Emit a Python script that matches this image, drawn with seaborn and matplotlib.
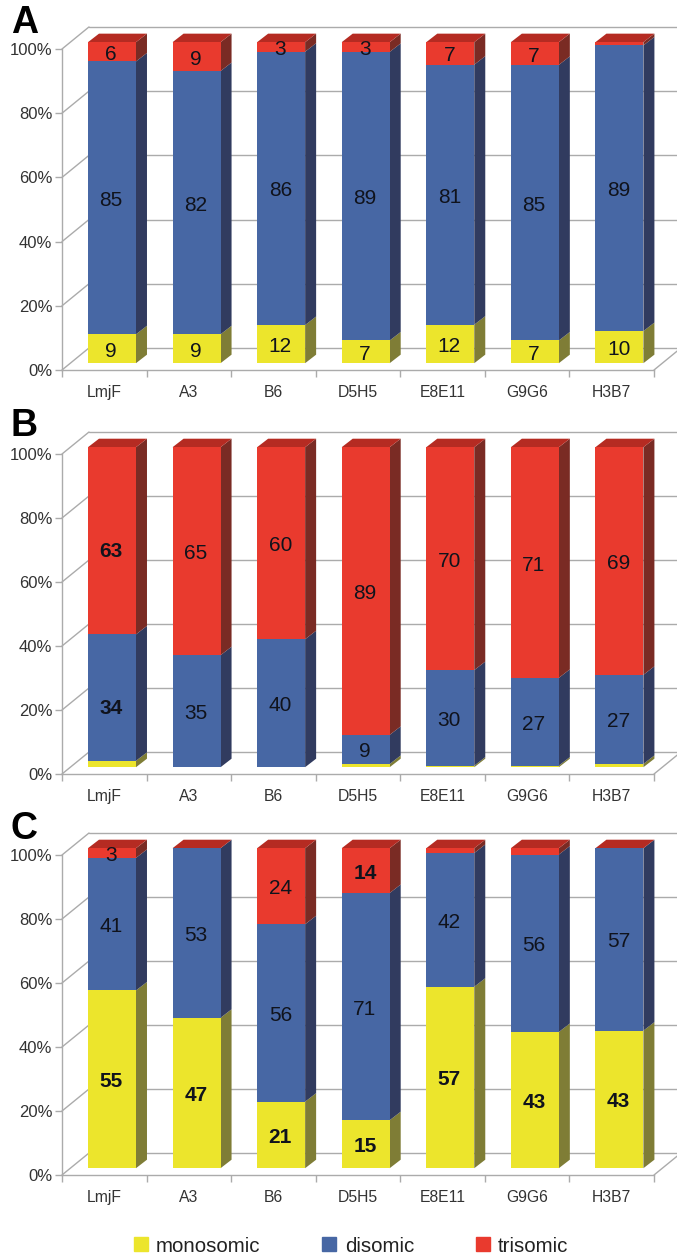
# Three stacked 3D-look bar panels (monosomic / disomic / trisomic per clone)
import numpy as np
import matplotlib.pyplot as plt
import seaborn as sns
from matplotlib.patches import Patch, Polygon
from matplotlib.transforms import Affine2D

sns.set_theme(style="white")
plt.rcParams["font.family"] = ["Liberation Sans", "DejaVu Sans"]

# -------------------
# Data
# -------------------
clones = ["LmjF", "A3", "B6", "D5H5", "E8E11", "G9G6", "H3B7"]

mono_a = [9, 9, 12, 7, 12, 7, 10]
di_a = [85, 82, 86, 89, 81, 85, 89]
tri_a = [6, 9, 3, 3, 7, 7, 1]

# the first bar of B is drawn taller than its printed numbers say
mono_b = [2, 0, 0, 1, 0.5, 0.5, 1]
di_b = [39.5, 35, 40, 9, 30, 27, 27]
tri_b = [58.5, 65, 60, 89, 70, 71, 69]
di_b_shown = [34, 35, 40, 9, 30, 27, 27]
tri_b_shown = [63, 65, 60, 89, 70, 71, 69]

mono_c = [55, 47, 21, 15, 57, 43, 43]
di_c = [41, 53, 56, 71, 42, 56, 57]
tri_c = [3, 0, 24, 14, 1.5, 2, 0]

# numbers that look heavier in the original, as (layer, clone index)
bold_a = []
bold_b = [(1, 0), (2, 0)]
bold_c = [(0, 0), (0, 1), (0, 2), (0, 3), (0, 4), (0, 5), (0, 6), (2, 3)]

panel_names = ["A", "B", "C"]
y_ticks = [0, 20, 40, 60, 80, 100]

# -------------------
# Colours and layout (pixels of the 677x1258 picture)
# -------------------
W, H = 677, 1258
YELLOW, YELLOW_SIDE = "#ECE52C", "#7F7D36"
BLUE, BLUE_SIDE = "#4767A4", "#313B5F"
RED, RED_SIDE, RED_TOP = "#E93A2E", "#7A2B24", "#B52B22"
GRID = "#ABABAB"

PX_X = 592 / 7  # pixels per category
PX_Y = 3.2      # pixels per percent
BACK = (27 / PX_X, 22 / PX_Y)
SHIFT = (7.7 / PX_X, 6.8 / PX_Y)
DEPTH = (11 / PX_X, 8.5 / PX_Y)
BAR_W = 48 / PX_X
TEXT_DROP = 2.5 / PX_Y


def draw_frame(ax):
    # back wall and floor
    bx, by = BACK
    for t in y_ticks:
        ax.plot([-0.5, -0.5 + bx], [t, t + by], color=GRID, lw=1, zorder=1, clip_on=False)
        ax.plot([-0.5 + bx, 6.5 + bx], [t + by, t + by], color=GRID, lw=1, zorder=1, clip_on=False)
    ax.plot([6.5, 6.5 + bx], [0, by], color=GRID, lw=1, zorder=1, clip_on=False)


def draw_panel(ax, mono, di, tri, bold, di_shown=None, tri_shown=None):
    di_shown = di if di_shown is None else di_shown
    tri_shown = tri if tri_shown is None else tri_shown
    totals = np.array(mono) + np.array(di) + np.array(tri)
    shown_totals = np.array(mono) + np.array(di_shown) + np.array(tri_shown)
    bottom = np.zeros(len(clones))
    shown_bottom = np.zeros(len(clones))
    layers = [(mono, mono, YELLOW, YELLOW_SIDE), (di, di_shown, BLUE, BLUE_SIDE),
              (tri, tri_shown, RED, RED_SIDE)]
    shift = Affine2D().translate(*SHIFT) + ax.transData
    dx, dy = DEPTH
    for k, (values, shown, colour, side) in enumerate(layers):
        heights = np.array(values) / totals * 100
        shown_h = np.array(shown) / shown_totals * 100
        sns.barplot(x=clones, y=heights, bottom=bottom, color=colour, saturation=1,
                    width=BAR_W, linewidth=0, ax=ax)
        for i, bar in enumerate(ax.containers[-1]):
            bar.set_transform(shift)
            bar.set_zorder(4)
            bar.set_clip_on(False)
            x1 = bar.get_x() + bar.get_width()
            y0, y1 = bar.get_y(), bar.get_y() + bar.get_height()
            ax.add_patch(Polygon([(x1, y0), (x1 + dx, y0 + dy), (x1 + dx, y1 + dy), (x1, y1)],
                                 facecolor=side, edgecolor="none", transform=shift,
                                 zorder=3, clip_on=False))
            if colour == RED:
                x0 = bar.get_x()
                ax.add_patch(Polygon([(x0, y1), (x1, y1), (x1 + dx, y1 + dy), (x0 + dx, y1 + dy)],
                                     facecolor=RED_TOP, edgecolor="none", transform=shift,
                                     zorder=3, clip_on=False))
            if shown[i] >= 3:
                ax.text(i + SHIFT[0] - 0.01, shown_bottom[i] + shown_h[i] / 2 + SHIFT[1] - TEXT_DROP,
                        f"{shown[i]:g}", fontsize=15, color="#10131C", ha="center", va="center",
                        fontweight="bold" if (k, i) in bold else "normal", zorder=6)
        bottom = bottom + heights
        shown_bottom = shown_bottom + shown_h


# -------------------
# Figure
# -------------------
fig = plt.figure(figsize=(W / 100, H / 100), dpi=100, facecolor="white")
panels = [(mono_a, di_a, tri_a, bold_a),
          (mono_b, di_b, tri_b, bold_b, di_b_shown, tri_b_shown),
          (mono_c, di_c, tri_c, bold_c)]
frames = [(49, 370), (454, 774), (855, 1175)]
letter_y = [33, 436, 839]

for name, data, (top, base), ly in zip(panel_names, panels, frames, letter_y):
    ax = fig.add_axes([62 / W, 1 - base / H, 592 / W, (base - top) / H], facecolor="none")
    draw_frame(ax)
    draw_panel(ax, *data)
    ax.set_xlim(-0.5, 6.5)
    ax.set_ylim(0, 100)
    ax.set_yticks(y_ticks)
    ax.set_yticklabels([f"{t}%" for t in y_ticks])
    ax.set_xticks(range(len(clones)))
    ax.set_xticklabels(clones)
    ax.set_xticks(np.arange(-0.5, 7), minor=True)
    ax.tick_params(axis="x", which="major", length=0, pad=10.5, labelsize=11.3, labelcolor="#333333")
    ax.tick_params(axis="x", which="minor", length=5, width=1, color=GRID, bottom=True)
    ax.tick_params(axis="y", length=5, width=1, color=GRID, left=True, pad=2,
                   labelsize=12, labelcolor="#333333")
    ax.set_xlabel("")
    ax.set_ylabel("")
    for s in ["top", "right"]:
        ax.spines[s].set_visible(False)
    for s in ["left", "bottom"]:
        ax.spines[s].set_color(GRID)
        ax.spines[s].set_linewidth(1)
    fig.text(11 / W, 1 - ly / H, name, fontsize=27, fontweight="bold", color="black",
             ha="left", va="baseline")

handles = [Patch(color=YELLOW, label="monosomic"), Patch(color=BLUE, label="disomic"),
           Patch(color=RED, label="trisomic")]
fig.legend(handles=handles, loc="center", bbox_to_anchor=(351 / W, 1 - 1246 / H), ncols=3,
           frameon=False, fontsize=14.8, handlelength=0.69, handleheight=0.69,
           handletextpad=0.4, columnspacing=3.0, borderpad=0, labelcolor="#222222")

fig.savefig("out.png", dpi=100)
